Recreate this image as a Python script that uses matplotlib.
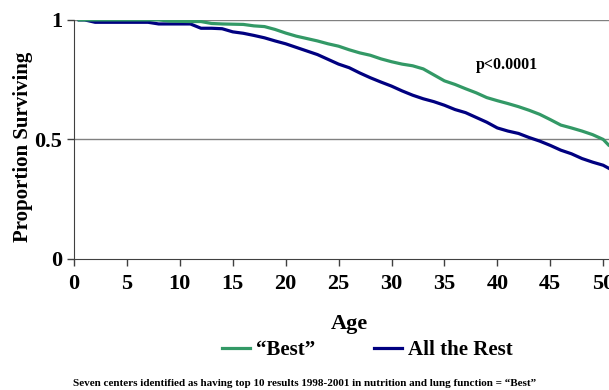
import matplotlib
matplotlib.use('Agg')
import matplotlib.pyplot as plt

plt.rcParams['font.family'] = 'Liberation Serif'
plt.rcParams['font.weight'] = 'bold'

age = [0.5, 1, 2, 3, 4, 5, 6, 7, 8, 9, 10, 11, 12, 13, 14, 15, 16, 17, 18, 19, 20,
       21, 22, 23, 24, 25, 26, 27, 28, 29, 30, 31, 32, 33, 34, 35, 36, 37, 38, 39, 40,
       41, 42, 43, 44, 45, 46, 47, 48, 49, 50, 50.5]
best = [1.0, 1.0, 1.0, 1.0, 1.0, 1.0, 1.0, 1.0, 1.0, 0.995, 0.994, 0.993, 0.993, 0.985, 0.983,
        0.982, 0.981, 0.975, 0.972, 0.96, 0.945, 0.932, 0.922, 0.912, 0.9, 0.89, 0.875,
        0.862, 0.852, 0.837, 0.825, 0.815, 0.808, 0.795, 0.77, 0.745, 0.73, 0.712, 0.695,
        0.675, 0.662, 0.65, 0.637, 0.622, 0.605, 0.583, 0.56, 0.548, 0.535, 0.52, 0.5, 0.477]
rest = [1.0, 1.0, 0.99, 0.99, 0.99, 0.99, 0.99, 0.99, 0.983, 0.983, 0.983, 0.983, 0.965,
        0.965, 0.963, 0.95, 0.944, 0.935, 0.925, 0.912, 0.9, 0.885, 0.87, 0.855, 0.835,
        0.815, 0.8, 0.778, 0.758, 0.74, 0.723, 0.703, 0.685, 0.67, 0.658, 0.643, 0.625,
        0.612, 0.592, 0.572, 0.548, 0.535, 0.525, 0.508, 0.493, 0.475, 0.455, 0.44, 0.42,
        0.405, 0.392, 0.38]
xticks = list(range(0, 51, 5))
yticks = [0, 0.5, 1]
ylabels = ['0', '0.5', '1']

fig = plt.figure(figsize=(6.09, 3.9), dpi=100)
ax = fig.add_axes([0.1215, 0.336, 0.8785, 0.613])

for y in [0.5, 1]:
    ax.axhline(y, color='#808080', lw=1, zorder=1)

ax.plot(age, best, color='#339966', lw=2.3, label='\u201cBest\u201d', zorder=3)
ax.plot(age, rest, color='#000080', lw=2.3, label='All the Rest', zorder=2)

ax.set_xlim(0, 50.55)
ax.set_ylim(0, 1)
ax.set_xticks(xticks)
ax.set_yticks(yticks)
ax.set_yticklabels(ylabels)
ax.tick_params(axis='both', labelsize=16, length=5, color='#404040', width=1)
ax.tick_params(axis='x', pad=6)
for s in ['top', 'right']:
    ax.spines[s].set_visible(False)
for s in ['left', 'bottom']:
    ax.spines[s].set_color('#404040')
ax.set_xlabel('Age', fontsize=16, fontweight='bold')
ax.xaxis.set_label_coords(0.514, -0.23)
ax.set_ylabel('Proportion Surviving', fontsize=15, fontweight='bold')
ax.yaxis.set_label_coords(-0.076, 0.47)

ax.text(40.9, 0.81, 'p<0.0001', fontsize=11.5, fontweight='bold', ha='center', va='center')

fig.legend(loc='center', bbox_to_anchor=(0.603, 0.103), ncol=2, frameon=False,
           fontsize=15, handlelength=1.35, columnspacing=2.8, handletextpad=0.3)

fig.text(0.5, 0.018, 'Seven centers identified as having top 10 results 1998-2001 in nutrition and lung function = \u201cBest\u201d',
         ha='center', va='center', fontsize=8, fontweight='bold')

fig.savefig('out.png', dpi=100)
